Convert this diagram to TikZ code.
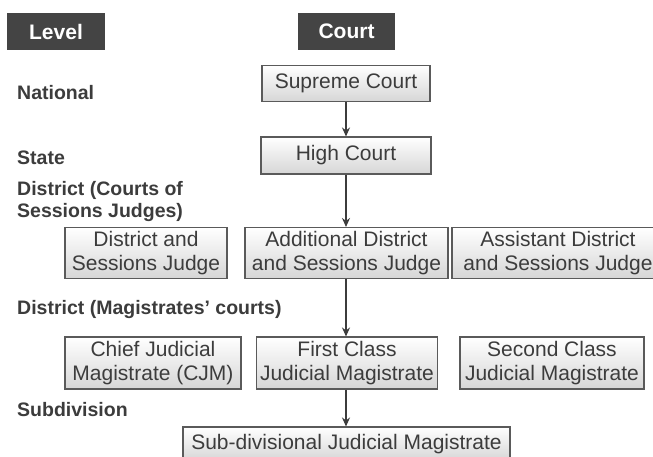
\documentclass[tikz,border=0pt]{standalone}
\usepackage{fontspec}
\setmainfont{Liberation Sans}
\usetikzlibrary{arrows.meta}
\definecolor{txt}{HTML}{3C3C3C}
\definecolor{hdr}{HTML}{444444}
\definecolor{edge}{HTML}{5A5A5A}
\definecolor{shadebot}{HTML}{D6D6D6}
\tikzset{
  court/.style={draw=edge, line width=1.1pt, top color=white, bottom color=shadebot,
    text=txt, align=center, inner sep=0pt,
    font=\fontsize{21}{23.5}\selectfont},
  twoline/.style={execute at begin node={\rule{0pt}{20pt}}},
  hdrbox/.style={fill=hdr, text=white, inner sep=0pt, minimum height=37pt,
    font=\fontsize{21}{24}\selectfont\bfseries},
  lvl/.style={text=txt, inner sep=0pt, align=left,
    font=\fontsize{19.5}{22}\selectfont\bfseries},
  link/.style={draw=txt, line width=1.4pt, -{Stealth[length=9pt,width=8pt]}}
}
\begin{document}
\begin{tikzpicture}[x=1pt,y=-1pt]
\useasboundingbox (0,0) rectangle (653,456);
\fill[white] (0,0) rectangle (653,456);
% headers
\node[hdrbox, minimum width=98pt] (hlevel) at (56,31.5) {Level};
\node[hdrbox, minimum width=97pt] (hcourt) at (346.5,31.5) {Court};
% level labels
\node[lvl, anchor=base west] (lnat) at (17,99) {National};
\node[lvl, anchor=base west] (lstate) at (17,164) {State};
\node[lvl, anchor=west] (ldist) at (17,201) {District (Courts of\\Sessions Judges)};
\node[lvl, anchor=base west] (lmag) at (17,314) {District (Magistrates' courts)};
\node[lvl, anchor=base west] (lsub) at (17,416) {Subdivision};
% courts
\node[court, minimum width=168pt, minimum height=36pt] (sc) at (346,83.5) {Supreme Court};
\node[court, minimum width=170pt, minimum height=37pt] (hc) at (346,155.5) {High Court};
\node[court, twoline, minimum width=162pt, minimum height=51pt] (dsj) at (146,253) {District and\\Sessions Judge};
\node[court, twoline, minimum width=203pt, minimum height=51pt] (adsj) at (346.5,253) {Additional District\\and Sessions Judge};
\node[court, twoline, minimum width=212pt, minimum height=51pt] (asdj) at (558,253) {Assistant District\\and Sessions Judge};
\node[court, twoline, minimum width=176pt, minimum height=52pt] (cjm) at (153,363) {Chief Judicial\\Magistrate (CJM)};
\node[court, twoline, minimum width=181pt, minimum height=52pt] (fcjm) at (347,363) {First Class\\Judicial Magistrate};
\node[court, twoline, minimum width=184pt, minimum height=52pt] (scjm) at (552,363) {Second Class\\Judicial Magistrate};
\node[court, minimum width=327pt, minimum height=34pt] (sdjm) at (346.5,444) {Sub-divisional Judicial Magistrate};
% connectors
\draw[link] (sc.south) -- (hc.north);
\draw[link] (hc.south) -- (hc.south |- adsj.north);
\draw[link] (hc.south |- adsj.south) -- (hc.south |- fcjm.north);
\draw[link] (hc.south |- fcjm.south) -- (hc.south |- sdjm.north);
\end{tikzpicture}
\end{document}
